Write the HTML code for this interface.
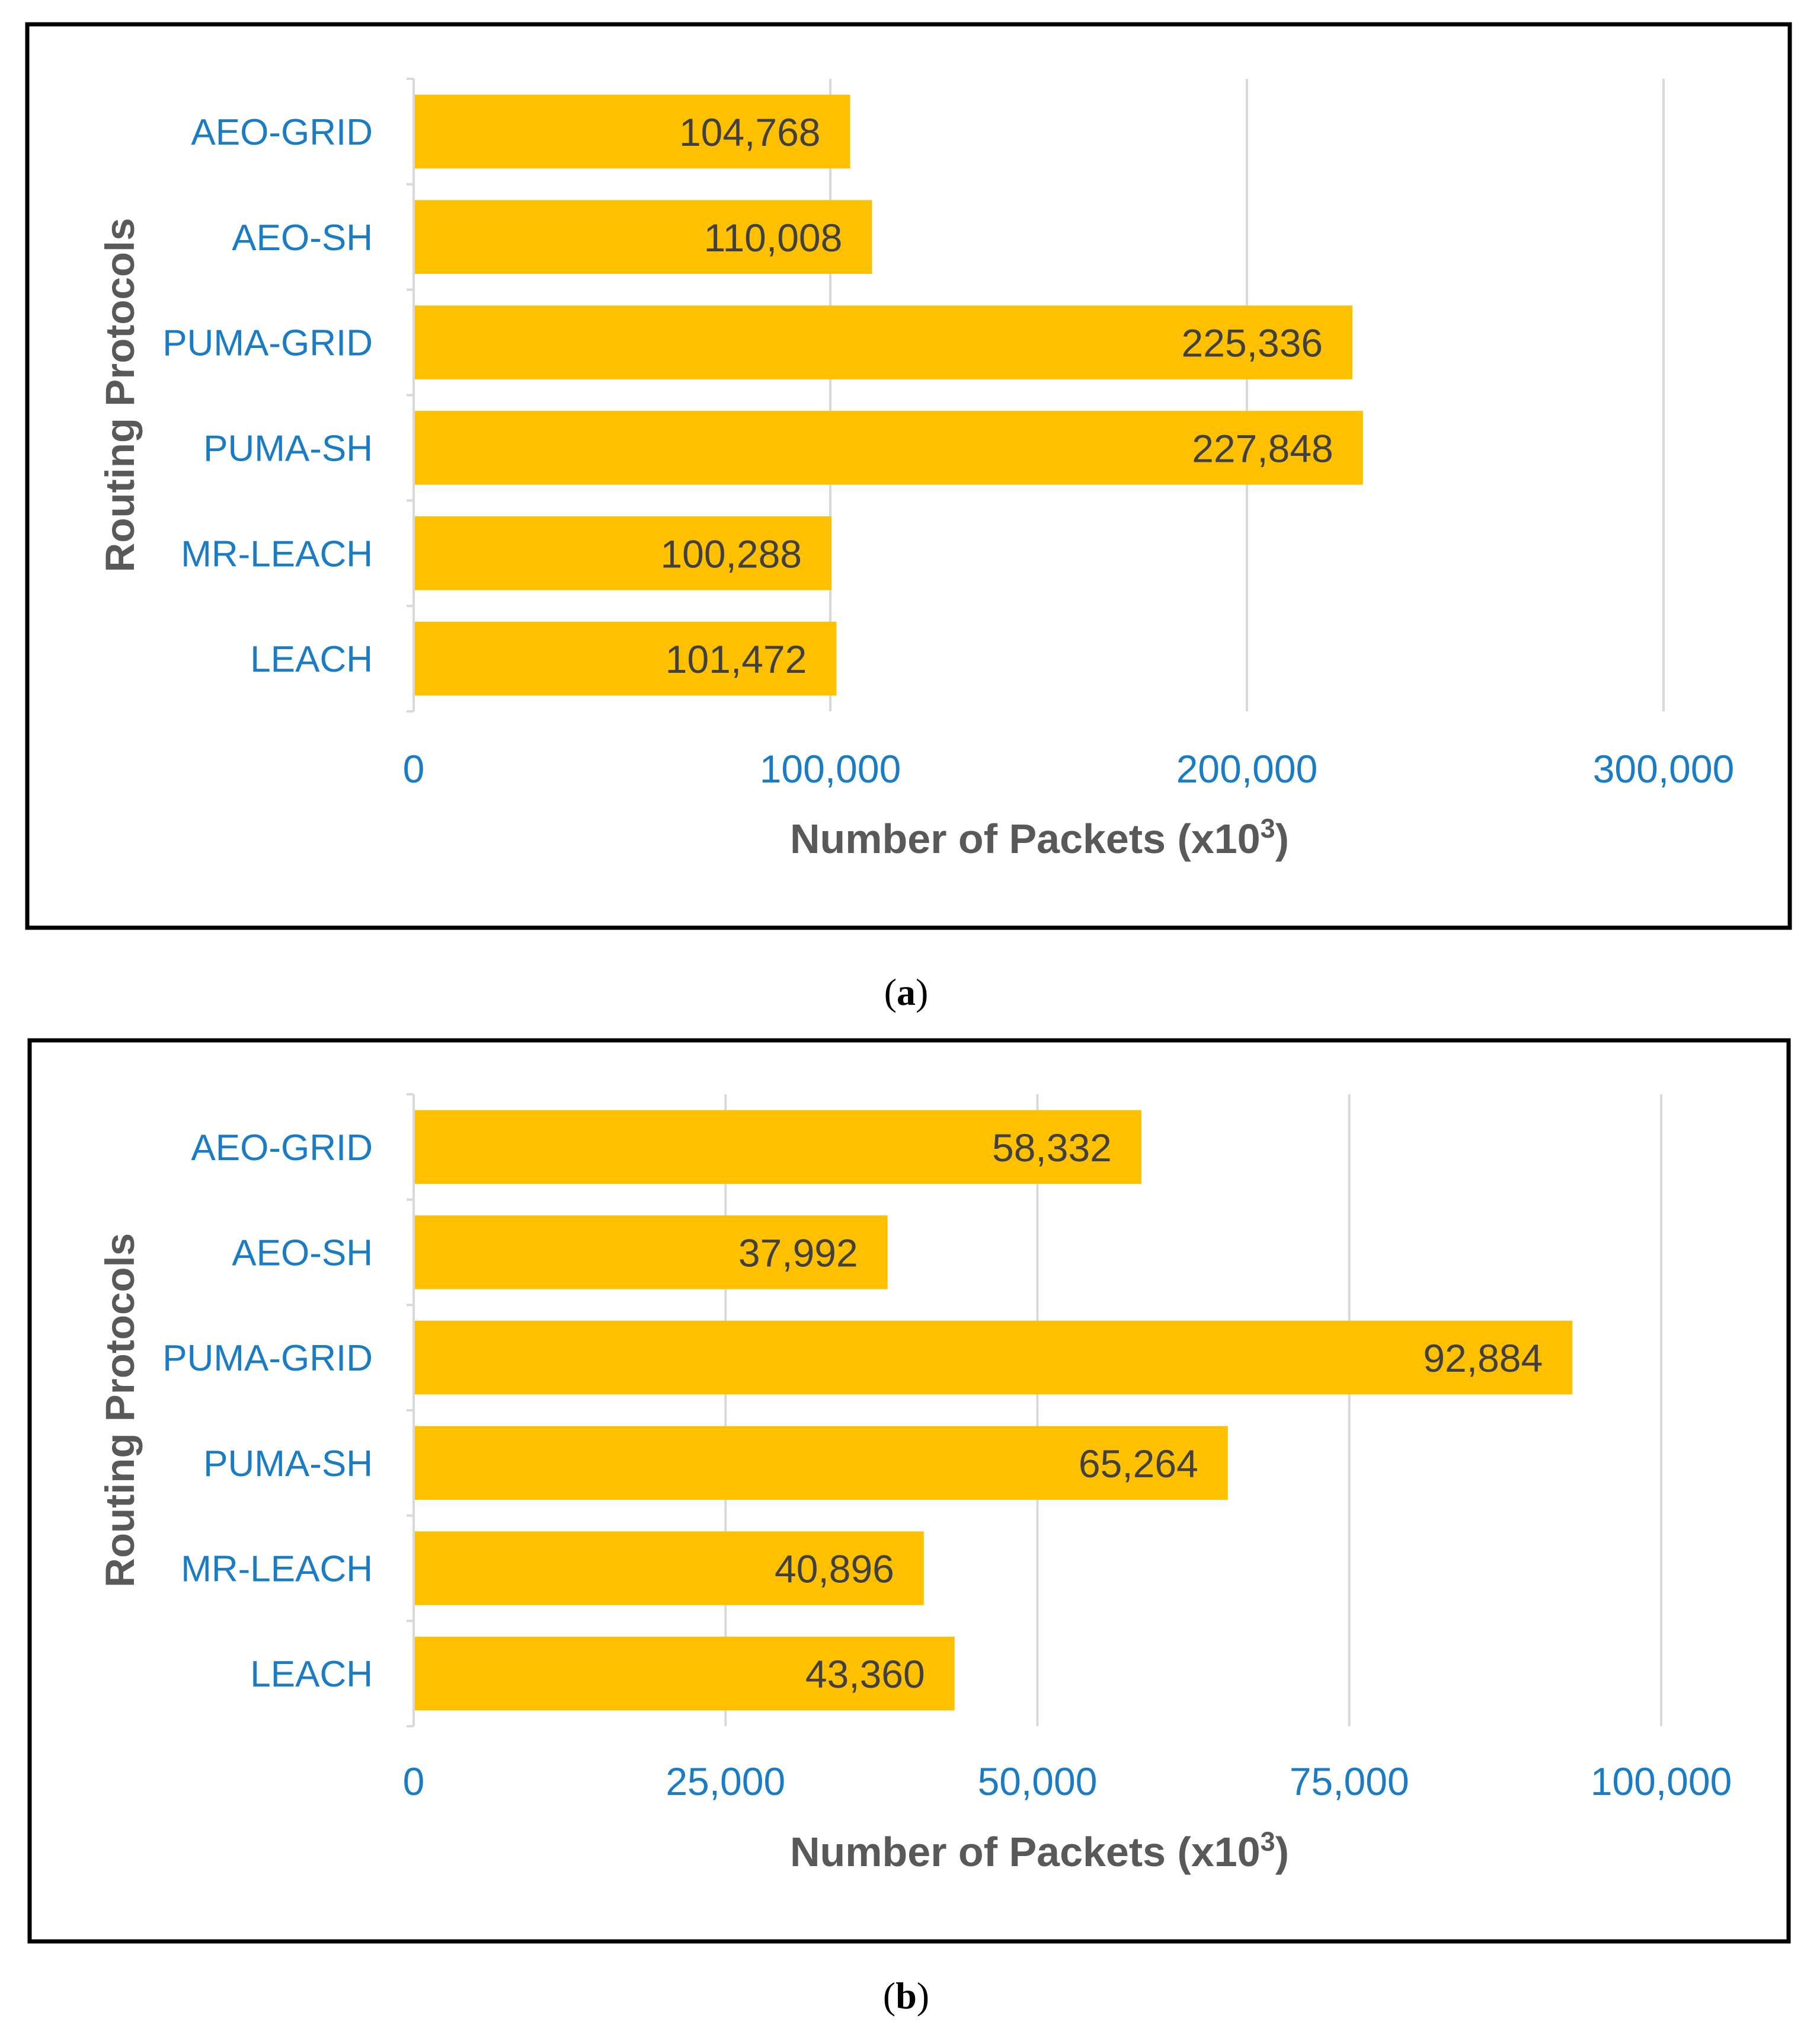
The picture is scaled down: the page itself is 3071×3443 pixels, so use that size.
<!DOCTYPE html>
<html><head><meta charset="utf-8"><style>
html,body{margin:0;padding:0;background:#fff;}
svg{display:block;}
</style></head><body>
<svg id="fig" width="3071" height="3443" viewBox="0 0 3071 3443" xmlns="http://www.w3.org/2000/svg">
<rect x="0" y="0" width="3071" height="3443" fill="#fff"/>
</svg>
<script>
const categories = ["AEO-GRID","AEO-SH","PUMA-GRID","PUMA-SH","MR-LEACH","LEACH"];
const valuesA = [104768,110008,225336,227848,100288,101472];
const valuesB = [58332,37992,92884,65264,40896,43360];
const ticksA = [0,100000,200000,300000];
const ticksB = [0,25000,50000,75000,100000];
const NS = "http://www.w3.org/2000/svg";
const svg = document.getElementById('fig');
function mk(tag, attrs, parent){
  const e = document.createElementNS(NS, tag);
  for (const k in attrs) e.setAttribute(k, attrs[k]);
  (parent||svg).appendChild(e);
  return e;
}
function fmt(v){ return v.toLocaleString('en-US'); }
function panel(cfg){
  const g = mk('g', {});
  
  
  const b = mk('rect', {x:cfg.bx, y:cfg.by, width:cfg.bw, height:cfg.bh, fill:'none', stroke:'#000', 'stroke-width':7}, g);
  
  
  const x0 = 698, x1 = cfg.xEnd;
  const maxT = cfg.ticks[cfg.ticks.length-1];
  const xs = v => x0 + (x1 - x0) * v / maxT;
  const top = cfg.top, bot = cfg.bot;
  const band = (bot - top) / categories.length;
  cfg.ticks.forEach((t,i) => {
    if (i === 0) return;
    const l = mk('line', {x1:xs(t), x2:xs(t), y1:top, y2:bot, stroke:'#d9d9d9', 'stroke-width':4}, g);
    
    
  });
  const ax = mk('line', {x1:x0, x2:x0, y1:top, y2:bot, stroke:'#d9d9d9', 'stroke-width':4}, g);
  
  
  for (let i=0;i<=categories.length;i++){
    const tk = mk('line', {x1:x0-12, x2:x0, y1:top+band*i, y2:top+band*i, stroke:'#d9d9d9', 'stroke-width':4}, g);
    
    
  }
  cfg.values.forEach((v,i) => {
    const bh = band*0.7;
    const y = top + band*i + (band-bh)/2;
    const r = mk('rect', {x:x0+2, y:y, width:xs(v)-x0-2, height:bh, fill:'#ffc000'}, g);
    
    
    const t = mk('text', {x:xs(v)-50, y:y+bh/2+24, 'text-anchor':'end', 'font-family':'Liberation Sans, sans-serif', 'font-size':66, fill:'#404040'}, g);
    t.textContent = fmt(v);
    
    
    const c = mk('text', {x:629, y:top+band*i+band/2+22, 'text-anchor':'end', 'font-family':'Liberation Sans, sans-serif', 'font-size':62, fill:'#1a7cc4'}, g);
    c.textContent = categories[i];
    
    
  });
  cfg.ticks.forEach(t => {
    const tl = mk('text', {x:xs(t), y:cfg.tickY+24, 'text-anchor':'middle', 'font-family':'Liberation Sans, sans-serif', 'font-size':66, fill:'#1a7cc4'}, g);
    tl.textContent = fmt(t);
    
    
  });
  const xt = mk('text', {x:1754, y:cfg.titleY+25, 'text-anchor':'middle', 'font-family':'Liberation Sans, sans-serif', 'font-size':70, 'font-weight':'bold', fill:'#595959'}, g);
  xt.innerHTML = 'Number of Packets (x10<tspan dy="-26" font-size="45">3</tspan><tspan dy="26">)</tspan>';
  
  
  const yc = (top+bot)/2;
  const yt = mk('text', {x:0, y:0, transform:'translate(226,'+yc+') rotate(-90)', 'text-anchor':'middle', 'font-family':'Liberation Sans, sans-serif', 'font-size':69, 'font-weight':'bold', fill:'#595959'}, g);
  yt.textContent = 'Routing Protocols';
  
  
  const cap = mk('text', {x:1529, y:cfg.capY+22, 'text-anchor':'middle', 'font-family':'Liberation Serif, serif', 'font-size':64, fill:'#000'}, g);
  cap.innerHTML = '(<tspan font-weight="bold">' + cfg.cap + '</tspan>)';
  
  
}
panel({name:'chart-a', bx:46, by:41, bw:2974, bh:1524, values:valuesA, ticks:ticksA, xEnd:2807, top:133, bot:1200, tickY:1296, titleY:1414, capY:1673, cap:'a'});
panel({name:'chart-b', bx:50, by:1755, bw:2968, bh:1520, values:valuesB, ticks:ticksB, xEnd:2803, top:1846, bot:2912, tickY:3004, titleY:3123, capY:3366, cap:'b'});
</script>
</body></html>
